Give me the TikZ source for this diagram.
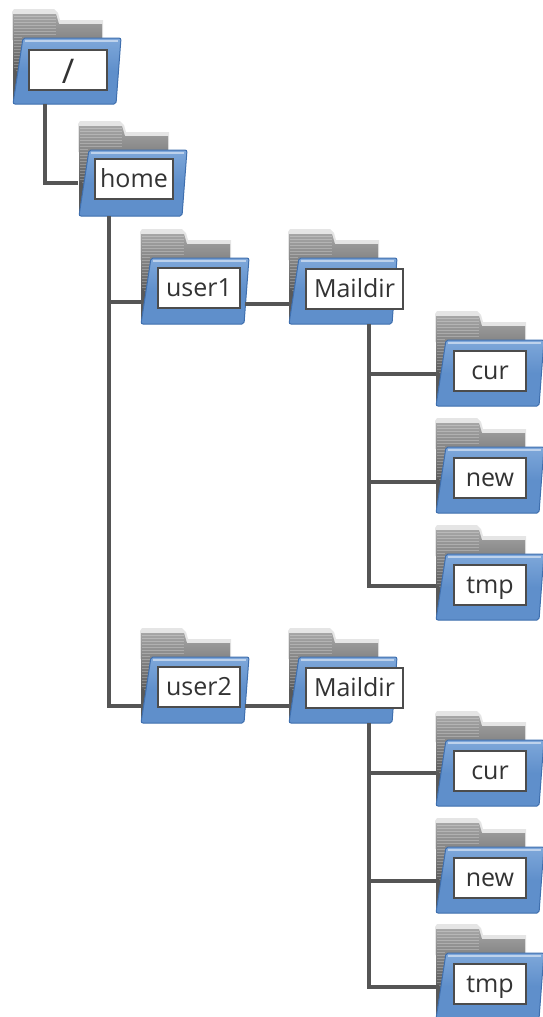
\documentclass[tikz,border=0pt]{standalone}
\usepackage{fontspec}
\setmainfont{Open Sans}
\usepackage{xcolor}
\usetikzlibrary{calc}
\definecolor{folderblue}{HTML}{5F8FCB}
\definecolor{folderlight}{HTML}{7FA8DA}
\definecolor{folderedge}{HTML}{3F6FAE}
\definecolor{wiregray}{HTML}{555555}
\tikzset{
	wire/.style={line width=3.6,color=wiregray},
	dirlabel/.style={draw=black!70,line width=1.6,fill=white,minimum height=40,inner sep=0,text=black!80,text height=16,text depth=0,font=\fontsize{25}{28}\selectfont},
	dirbox/.style={minimum width=108,minimum height=94,inner sep=0}
}
% folder icon, (0,0) is the corner of the tab
\newcommand{\foldericon}{
	\fill[black!10] (0,2) -- ++(2,-3) -- (42,-1) -- (46,3) -- (48,10) -- (91,10) -- (91,30) -- (0,30) -- cycle;
	\shade[top color=black!35,bottom color=black!80] (1,4) -- (44,4) -- (47,14) -- (90,14) -- (90,30) -- (14,30) -- (4,92) -- (1,92) -- cycle;
	\foreach \s in {6,9,...,60} {
		\draw[white,opacity=0.25,line width=0.9] (1.5,\s) -- (10,\s);
	}
	\foreach \s in {6,9,12,15,18,21,24} {
		\draw[white,opacity=0.25,line width=0.9] (10,\s) -- (44,\s);
	}
	\fill[black!65] (1,60) -- (4,60) -- (4,94) -- (1,92) -- cycle;
	\draw[line width=1,draw=folderedge,top color=folderlight,bottom color=folderblue,middle color=folderblue,rounded corners=2] (11,28) -- (109,28) -- (104,94) -- (1,94) -- cycle;
	\draw[line width=1.4,white,opacity=0.5] (13,31) -- (106,31);
}
\begin{document}
\begin{tikzpicture}[x=1pt,y=-1pt]
	\useasboundingbox (0,0) rectangle (542,1017);
	\foreach \n/\x/\y/\t/\lx/\lw/\ly in {
		root/12/10/{\raisebox{-5pt}{\fontsize{34}{34}\selectfont /}}/17/78/60,
		home/78/122/{home}/17/78/57,
		usera/140/230/{user1}/18/82/58,
		mailone/288/230/{Maildir}/18/97/59,
		curone/435/312/{cur}/19/72/59,
		newone/435/419/{new}/19/72/59,
		tmpone/435/526/{tmp}/19/72/59,
		userb/140/629/{user2}/18/82/58,
		mailtwo/288/629/{Maildir}/18/97/59,
		curtwo/435/712/{cur}/19/72/59,
		newtwo/435/819/{new}/19/72/59,
		tmptwo/435/925/{tmp}/19/72/59}{
		\begin{scope}[shift={(\x,\y)}]
			\foldericon
		\end{scope}
		\node[dirbox] (\n) at (\x+54,\y+47) {};
		\node[dirlabel,minimum width=\lw] (\n-label) at (\x+\lx+\lw/2,\y+\ly) {\t};
	}
	% connectors
	\draw[wire] ($(root.south west)+(33,0)$) |- ($(home.north west)+(0,61)$);
	\draw[wire] ($(home.south west)+(31,0)$) |- ($(userb.north west)+(1,77)$);
	\draw[wire] ($(usera.north west)+(1,72)$) -- ++(-32,0);
	\draw[wire] ($(usera.north east)+(-3,74)$) -- ($(mailone.north west)+(1,74)$);
	\draw[wire] ($(userb.north east)+(-3,77)$) -- ($(mailtwo.north west)+(1,77)$);
	\draw[wire] ($(mailone.south west)+(81,0)$) |- ($(tmpone.north west)+(1,60)$);
	\draw[wire] ($(curone.north west)+(1,62)$) -- ++(-67,0);
	\draw[wire] ($(newone.north west)+(1,63)$) -- ++(-67,0);
	\draw[wire] ($(mailtwo.south west)+(81,0)$) |- ($(tmptwo.north west)+(1,62)$);
	\draw[wire] ($(curtwo.north west)+(1,61)$) -- ++(-67,0);
	\draw[wire] ($(newtwo.north west)+(1,62)$) -- ++(-67,0);
\end{tikzpicture}
\end{document}
